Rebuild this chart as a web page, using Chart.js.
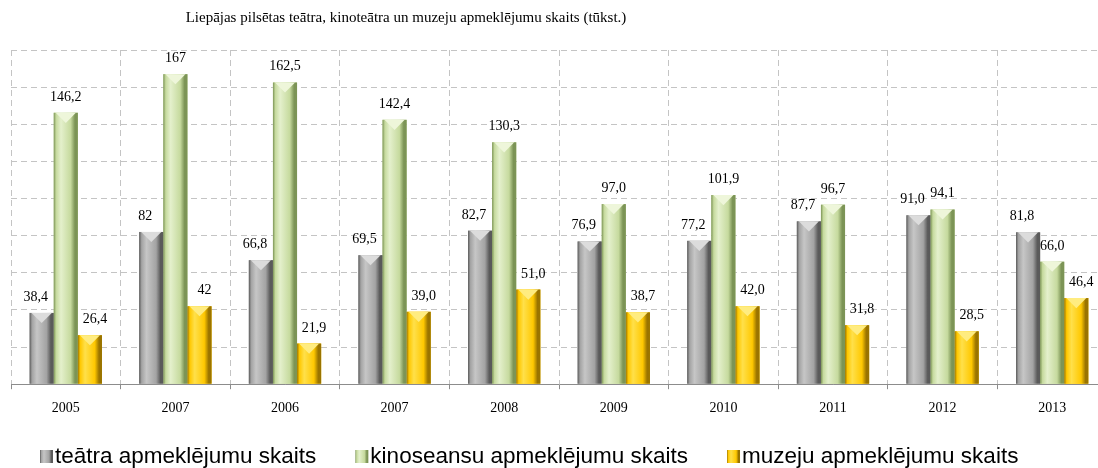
<!DOCTYPE html>
<html>
<head>
<meta charset="utf-8">
<script src="https://cdn.jsdelivr.net/npm/chart.js@4.4.1/dist/chart.umd.min.js"></script>
<style>
  html, body { margin: 0; padding: 0; background: #fff; overflow: hidden; }
  #wrap { width: 1098px; height: 468px; overflow: hidden; }
</style>
</head>
<body>
<div id="wrap"><canvas id="chart" width="1110" height="468"></canvas></div>
<script>
'use strict';

// data
const years = ['2005', '2007', '2006', '2007', '2008', '2009', '2010', '2011', '2012', '2013'];
const teatra = [38.4, 82, 66.8, 69.5, 82.7, 76.9, 77.2, 87.7, 91.0, 81.8];
const kino = [146.2, 167, 162.5, 142.4, 130.3, 97.0, 101.9, 96.7, 94.1, 66.0];
const muzeju = [26.4, 42, 21.9, 39.0, 51.0, 38.7, 42.0, 31.8, 28.5, 46.4];
// value labels as printed on the chart
const teatraText = ['38,4', '82', '66,8', '69,5', '82,7', '76,9', '77,2', '87,7', '91,0', '81,8'];
const kinoText = ['146,2', '167', '162,5', '142,4', '130,3', '97,0', '101,9', '96,7', '94,1', '66,0'];
const muzejuText = ['26,4', '42', '21,9', '39,0', '51,0', '38,7', '42,0', '31,8', '28,5', '46,4'];
const seriesNames = ['teātra apmeklējumu skaits', 'kinoseansu apmeklējumu skaits', 'muzeju apmeklējumu skaits'];
const chartTitle = 'Liepājas pilsētas teātra, kinoteātra un muzeju apmeklējumu skaits (tūkst.)';

// colours for the bevelled bars
const shades = [
  { light: '#c6c6c6', mid: '#a3a3a3', dark: '#5a5a5a', top: '#dcdcdc' },
  { light: '#e4f0cc', mid: '#c6da9e', dark: '#7c9456', top: '#eef6da' },
  { light: '#ffe04a', mid: '#ffc800', dark: '#9a7400', top: '#ffec80' }
];
const labelShift = [-6, 0, 5];

const serif = '"Liberation Serif", "Times New Roman", serif';
const sans = '"Liberation Sans", Arial, sans-serif';

function shadeRect(ctx, left, top, w, h, s) {
  const g = ctx.createLinearGradient(left, 0, left + w, 0);
  g.addColorStop(0, s.dark);
  g.addColorStop(0.1, s.mid);
  g.addColorStop(0.3, s.light);
  g.addColorStop(0.7, s.mid);
  g.addColorStop(0.88, s.dark);
  g.addColorStop(1, s.dark);
  ctx.fillStyle = g;
  ctx.fillRect(left, top, w, h);
}

// gradient + top bevel on every bar
const bevelBars = {
  id: 'bevelBars',
  afterDatasetsDraw(chart) {
    const ctx = chart.ctx;
    ctx.save();
    chart.data.datasets.forEach((ds, i) => {
      const s = shades[i];
      chart.getDatasetMeta(i).data.forEach(el => {
        const p = el.getProps(['x', 'y', 'base', 'width'], true);
        const left = p.x - p.width / 2;
        const h = p.base - p.y;
        shadeRect(ctx, left, p.y, p.width, h, s);
        const b = Math.min(p.width * 0.42, h);
        ctx.fillStyle = s.top;
        ctx.beginPath();
        ctx.moveTo(left + 2, p.y);
        ctx.lineTo(left + p.width - 2, p.y);
        ctx.lineTo(p.x, p.y + b);
        ctx.closePath();
        ctx.fill();
      });
    });
    ctx.restore();
  }
};

// value labels above bars
const valueLabels = {
  id: 'valueLabels',
  afterDatasetsDraw(chart) {
    const ctx = chart.ctx;
    const texts = [teatraText, kinoText, muzejuText];
    ctx.save();
    ctx.font = '14px ' + serif;
    ctx.fillStyle = '#000';
    ctx.textAlign = 'center';
    ctx.textBaseline = 'alphabetic';
    chart.data.datasets.forEach((ds, i) => {
      chart.getDatasetMeta(i).data.forEach((el, j) => {
        ctx.fillText(texts[i][j], el.x + labelShift[i], el.y - 12);
      });
    });
    ctx.restore();
  }
};

// title and legend drawn where the original has them
const titleLegend = {
  id: 'titleLegend',
  afterDraw(chart) {
    const ctx = chart.ctx;
    ctx.save();
    ctx.fillStyle = '#000';
    ctx.font = '15px ' + serif;
    ctx.textAlign = 'center';
    ctx.textBaseline = 'middle';
    ctx.fillText(chartTitle, 406, 18);

    ctx.font = '22.5px ' + sans;
    ctx.textAlign = 'left';
    let x = 40;
    const y = 457;
    seriesNames.forEach((name, i) => {
      shadeRect(ctx, x, y - 7, 13, 13, shades[i]);
      ctx.fillStyle = '#000';
      ctx.fillText(name, x + 15, y);
      x += 15 + ctx.measureText(name).width + 39;
    });
    ctx.restore();
  }
};

const ctx = document.getElementById('chart');

new Chart(ctx, {
  type: 'bar',
  data: {
    labels: years,
    datasets: [
      { label: seriesNames[0], data: teatra, backgroundColor: shades[0].mid },
      { label: seriesNames[1], data: kino, backgroundColor: shades[1].mid },
      { label: seriesNames[2], data: muzeju, backgroundColor: shades[2].mid }
    ]
  },
  options: {
    responsive: false,
    animation: false,
    categoryPercentage: 0.66,
    barPercentage: 1.0,
    layout: {
      padding: { top: 50, left: 11, right: 3, bottom: 40 }
    },
    plugins: {
      legend: { display: false },
      title: { display: false },
      tooltip: { enabled: false }
    },
    scales: {
      x: {
        ticks: {
          color: '#000',
          padding: 11,
          font: { family: serif, size: 14 }
        },
        grid: {
          color: '#c4c4c4',
          drawTicks: true,
          tickLength: 5,
          tickColor: '#8c8c8c',
          tickBorderDash: []
        },
        border: {
          display: true,
          color: '#8c8c8c',
          width: 1,
          dash: [6, 4]
        }
      },
      y: {
        min: 0,
        max: 180,
        ticks: { display: false, stepSize: 20 },
        grid: {
          color: '#c4c4c4',
          drawTicks: false
        },
        border: {
          display: false,
          dash: [6, 4]
        }
      }
    }
  },
  plugins: [bevelBars, valueLabels, titleLegend]
});
</script>
</body>
</html>
